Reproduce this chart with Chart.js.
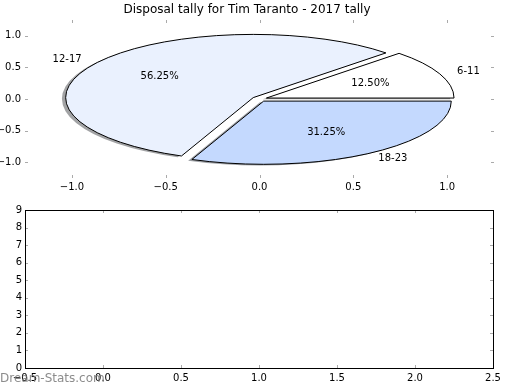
<!DOCTYPE html>
<html>
<head>
<meta charset="utf-8">
<script src="https://cdn.jsdelivr.net/npm/chart.js@4/dist/chart.umd.min.js"></script>
<style>
    body { margin: 0; background: #fff; width: 520px; height: 390px; position: relative; overflow: hidden; font-family: "DejaVu Sans", sans-serif; }
    #pie_box { position: absolute; left: 0; top: 0; width: 520px; height: 195px; }
    #empty_box { position: absolute; left: 0; top: 195px; width: 520px; height: 195px; }
    #watermark { position: absolute; left: 0; top: 371px; font-size: 12px; color: rgba(120, 120, 120, 0.85); font-family: "DejaVu Sans", sans-serif; }
</style>
</head>
<body>
<div id="pie_box"><canvas id="pie_tally" width="520" height="195"></canvas></div>
<div id="empty_box"><canvas id="empty_axes" width="520" height="195"></canvas></div>
<div id="watermark">Dream-Stats.com</div>
<script>
const titre = 'Disposal tally for Tim Taranto - 2017 tally';
const categories = ['6-11', '12-17', '18-23'];
const comptes = [2, 9, 5];
const couleurs = ['#ffffff', '#eaf1fe', '#c4d9fe'];
const eclatement = [0.04, 0.04, 0.04];
const pieTicks = [-1.0, -0.5, 0.0, 0.5, 1.0];
const emptyXTicks = [-0.5, 0.0, 0.5, 1.0, 1.5, 2.0, 2.5];
const emptyYTicks = [0, 1, 2, 3, 4, 5, 6, 7, 8, 9];

const FONT = '"DejaVu Sans"';

function fmt1(v) {
    return v.toFixed(1).replace('-', '\u2212');
}

// matplotlib classic: short ticks pointing inside the axes
function inwardTicks(frame) {
    return {
        id: 'inwardTicks',
        afterDraw(chart) {
            const { ctx, chartArea: a, scales: { x, y } } = chart;
            ctx.save();
            ctx.strokeStyle = '#aaaaaa';
            ctx.lineWidth = 1;
            ctx.beginPath();
            x.ticks.forEach(t => {
                let px = Math.round(x.getPixelForValue(t.value)) + 0.5;
                ctx.moveTo(px, a.bottom); ctx.lineTo(px, a.bottom - 3);
                ctx.moveTo(px, a.top); ctx.lineTo(px, a.top + 3);
            });
            y.ticks.forEach(t => {
                let py = Math.round(y.getPixelForValue(t.value)) + 0.5;
                ctx.moveTo(a.left, py); ctx.lineTo(a.left + 3, py);
                ctx.moveTo(a.right, py); ctx.lineTo(a.right - 3, py);
            });
            ctx.stroke();
            if (frame) {
                ctx.strokeStyle = '#000';
                ctx.strokeRect(Math.round(a.left) + 0.5, Math.round(a.top) + 0.5,
                    Math.round(a.right - a.left), Math.round(a.bottom - a.top));
            }
            ctx.restore();
        }
    };
}

const piePlugin = {
    id: 'pieWedges',
    afterDatasetsDraw(chart) {
        const { ctx, scales: { x, y } } = chart;
        const total = comptes.reduce((a, b) => a + b, 0);
        const rx = x.getPixelForValue(1) - x.getPixelForValue(0);
        const ry = y.getPixelForValue(0) - y.getPixelForValue(1);
        let debut = 0;
        const wedges = comptes.map((c, i) => {
            let th1 = debut;
            let th2 = debut + c / total * 2 * Math.PI;
            debut = th2;
            let mid = (th1 + th2) / 2;
            return { th1, th2, mid, dx: eclatement[i] * Math.cos(mid), dy: eclatement[i] * Math.sin(mid), pct: c / total * 100 };
        });
        function path(w, ox, oy) {
            let cx = x.getPixelForValue(w.dx + ox);
            let cy = y.getPixelForValue(w.dy + oy);
            ctx.beginPath();
            ctx.moveTo(cx, cy);
            ctx.ellipse(cx, cy, rx, ry, 0, -w.th1, -w.th2, true);
            ctx.closePath();
        }
        ctx.save();
        // ombres
        wedges.forEach((w, i) => {
            let h = couleurs[i];
            let r = parseInt(h.slice(1, 3), 16) * 0.3, g = parseInt(h.slice(3, 5), 16) * 0.3, b = parseInt(h.slice(5, 7), 16) * 0.3;
            path(w, -0.02, -0.02);
            ctx.fillStyle = `rgba(${r},${g},${b},0.5)`;
            ctx.fill();
        });
        wedges.forEach((w, i) => {
            path(w, 0, 0);
            ctx.fillStyle = couleurs[i];
            ctx.fill();
            ctx.strokeStyle = '#000';
            ctx.lineWidth = 1;
            ctx.lineJoin = 'miter';
            ctx.stroke();
        });
        ctx.font = `10px ${FONT}`;
        ctx.fillStyle = '#000';
        ctx.textBaseline = 'middle';
        wedges.forEach((w, i) => {
            let lx = w.dx + 1.1 * Math.cos(w.mid);
            let ly = w.dy + 1.1 * Math.sin(w.mid);
            ctx.textAlign = lx > 0 ? 'left' : 'right';
            ctx.fillText(categories[i], x.getPixelForValue(lx), y.getPixelForValue(ly));
            let px = w.dx + 0.6 * Math.cos(w.mid);
            let py = w.dy + 0.6 * Math.sin(w.mid);
            ctx.textAlign = 'center';
            ctx.fillText(w.pct.toFixed(2) + '%', x.getPixelForValue(px), y.getPixelForValue(py));
        });
        ctx.restore();
    }
};

function axe(ticksArr, min, max, fit, padding, callback) {
    return {
        type: 'linear',
        min: min,
        max: max,
        afterBuildTicks: (s) => { s.ticks = ticksArr.map(v => ({ value: v })); },
        afterFit: fit,
        ticks: {
            callback: callback,
            font: { family: FONT, size: 10 },
            color: '#000',
            padding: padding,
            maxRotation: 0,
            autoSkip: false
        },
        grid: { display: false, drawTicks: false },
        border: { display: false }
    };
}

new Chart(document.querySelector('#pie_tally'), {
    type: 'scatter',
    data: { datasets: [] },
    options: {
        responsive: false,
        animation: false,
        layout: { padding: { left: 0, right: 26, top: 0, bottom: 0 } },
        plugins: {
            legend: { display: false },
            tooltip: { enabled: false },
            title: {
                display: true,
                text: titre,
                color: '#000',
                font: { family: FONT, size: 12, weight: 'normal' },
                padding: { top: 3, bottom: 2.6 }
            }
        },
        scales: {
            x: axe(pieTicks, -1.25, 1.25, s => { s.height = 17; }, 3, v => fmt1(v)),
            y: axe(pieTicks, -1.25, 1.25, s => { s.width = 25; }, 4, v => fmt1(v))
        }
    },
    plugins: [piePlugin, inwardTicks(false)]
});

new Chart(document.querySelector('#empty_axes'), {
    type: 'scatter',
    data: { datasets: [] },
    options: {
        responsive: false,
        animation: false,
        layout: { padding: { left: 0, right: 27, top: 15, bottom: 0 } },
        plugins: {
            legend: { display: false },
            tooltip: { enabled: false }
        },
        scales: {
            x: axe(emptyXTicks, -0.5, 2.5, s => { s.height = 22; }, 4, v => fmt1(v)),
            y: axe(emptyYTicks, 0, 9, s => { s.width = 25; }, 3, v => String(v))
        }
    },
    plugins: [inwardTicks(true)]
});
</script>
</body>
</html>
